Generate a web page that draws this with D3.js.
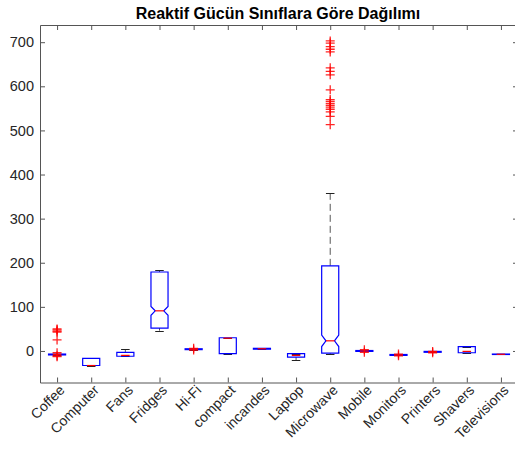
<!DOCTYPE html>
<html lang="tr">
<head>
<meta charset="UTF-8" />
<title>Reaktif Gücün Sınıflara Göre Dağılımı</title>
<script src="https://d3js.org/d3.v7.min.js"></script>
<style>
  body { margin: 0; background: #fff; font-family: "Liberation Sans", Arial, sans-serif; }
  svg { display: block; }
</style>
</head>
<body>
<svg width="515" height="450"></svg>
<script>
  // values
  const categories = ["Coffee", "Computer", "Fans", "Fridges", "Hi-Fi", "compact", "incandes",
    "Laptop", "Microwave", "Mobile", "Monitors", "Printers", "Shavers", "Televisions"];
  const q1 = [-9, -33, -12, 52, 3, -6, 4, -14, -5, -1, -10, -3, -4, -8];
  const medians = [-8, -33, -10, 91, 4, 29, 5, -10, 23, 0, -9, -2, -1, -7.5];
  const q3 = [-7, -17, -3, 179, 5, 30, 6, -6, 193, 1, -8, -1, 10, -7];
  const whiskerLow = [-10, -34, -12, 46, 3, -8, 4, -21, -8, -1, -10, -3, -4, -8];
  const whiskerHigh = [-6, -17, 4, 183, 5, 30, 6, -6, 358, 1, -8, -1, 10, -7];
  const notchHalf = [0, 0, 0, 10, 0, 0, 0, 0, 13, 0, 0, 0, 0, 0];
  const outliers = [
    [-4, -11, -13, 25, 43, 45, 48, 50],
    [], [], [],
    [2, 6],
    [], [], [],
    [703, 698, 690, 684, 678, 642, 634, 626, 592, 570, 566, 561, 557, 553, 548, 542, 532, 513],
    [-3, 3],
    [-7, -11],
    [-1, -4],
    [], []
  ];
  const yTicks = [0, 100, 200, 300, 400, 500, 600, 700];

  const svg = d3.select("svg");
  const margin = { top: 25, left: 40, right: 518, bottom: 382.5 };

  const x = d3.scaleLinear().domain([0.5, 14.5]).range([margin.left, margin.right]);
  const y = d3.scaleLinear().domain([-71.5, 739]).range([margin.bottom, margin.top]);

  const boxes = categories.map((c, i) => ({
    name: c, pos: i + 1, q1: q1[i], med: medians[i], q3: q3[i],
    lo: whiskerLow[i], hi: whiskerHigh[i], notch: notchHalf[i], out: outliers[i]
  }));

  const boxW = 0.25; // half width in category units
  const axisColor = "#262626";
  const frameColor = "#555";

  // title
  svg.append("text")
    .attr("x", (margin.left + margin.right) / 2 - 1)
    .attr("y", 19)
    .attr("text-anchor", "middle")
    .attr("font-size", 16)
    .attr("font-weight", "bold")
    .attr("fill", "#000")
    .text("Reaktif Gücün Sınıflara Göre Dağılımı");

  const plot = svg.append("g");

  // whiskers
  plot.selectAll(".wh").data(boxes.filter(d => d.hi > d.q3)).enter().append("line")
    .attr("x1", d => x(d.pos)).attr("x2", d => x(d.pos))
    .attr("y1", d => y(d.q3)).attr("y2", d => y(d.hi))
    .attr("stroke", "#555").attr("stroke-dasharray", "7,4");
  plot.selectAll(".wl").data(boxes.filter(d => d.lo < d.q1)).enter().append("line")
    .attr("x1", d => x(d.pos)).attr("x2", d => x(d.pos))
    .attr("y1", d => y(d.q1)).attr("y2", d => y(d.lo))
    .attr("stroke", "#555").attr("stroke-dasharray", "7,4");

  // caps
  ["lo", "hi"].forEach(k => {
    plot.selectAll(".cap-" + k).data(boxes).enter().append("line")
      .attr("x1", d => x(d.pos - boxW / 2)).attr("x2", d => x(d.pos + boxW / 2))
      .attr("y1", d => Math.round(y(d[k])) + 0.5).attr("y2", d => Math.round(y(d[k])) + 0.5)
      .attr("stroke", "#222");
  });

  // boxes (notched where the notch fits)
  function boxPath(d) {
    const l = x(d.pos - boxW), r = x(d.pos + boxW);
    const ind = (r - l) / 4;
    const t = y(d.q3), b = y(d.q1);
    if (!d.notch) return `M${l},${t}H${r}V${b}H${l}Z`;
    const nh = y(d.med + d.notch), nl = y(d.med - d.notch), m = y(d.med);
    return `M${l},${t}V${nh}L${l + ind},${m}L${l},${nl}V${b}H${r}V${nl}L${r - ind},${m}L${r},${nh}V${t}Z`;
  }
  plot.selectAll(".box").data(boxes).enter().append("path")
    .attr("d", boxPath)
    .attr("fill", "none")
    .attr("stroke", "#0000ff")
    .attr("stroke-width", 1.2);

  // medians
  plot.selectAll(".med").data(boxes).enter().append("line")
    .attr("x1", d => x(d.pos - boxW / 2)).attr("x2", d => x(d.pos + boxW / 2))
    .attr("y1", d => y(d.med)).attr("y2", d => y(d.med))
    .attr("stroke", "#ff0000")
    .attr("stroke-width", 1.2);

  // outliers
  const outPts = boxes.flatMap(d => d.out.map(v => ({ pos: d.pos, v })));
  const plus = plot.selectAll(".out").data(outPts).enter().append("g")
    .attr("transform", d => `translate(${x(d.pos)},${y(d.v)})`);
  plus.append("path")
    .attr("d", "M-4.5,0H4.5M0,-4.5V4.5")
    .attr("stroke", "#ff0000")
    .attr("stroke-width", 1.3)
    .attr("opacity", 0.85);

  // axes frame with inward ticks
  const tickLen = 5;
  svg.append("g")
    .attr("transform", `translate(0,${margin.bottom})`)
    .call(d3.axisBottom(x).tickValues(d3.range(1, 15)).tickSizeInner(-tickLen).tickSizeOuter(0).tickFormat(""))
    .call(g => g.selectAll("path,line").attr("stroke", frameColor));
  svg.append("g")
    .attr("transform", `translate(0,${margin.top})`)
    .call(d3.axisTop(x).tickValues(d3.range(1, 15)).tickSizeInner(-tickLen).tickSizeOuter(0).tickFormat(""))
    .call(g => g.selectAll("path,line").attr("stroke", frameColor));
  svg.append("g")
    .attr("transform", `translate(${margin.left},0)`)
    .call(d3.axisLeft(y).tickValues(yTicks).tickSizeInner(-tickLen).tickSizeOuter(0).tickPadding(6))
    .call(g => g.selectAll("path,line").attr("stroke", frameColor))
    .call(g => g.selectAll("text").attr("font-size", 14.5).attr("fill", axisColor)
      .attr("font-family", "'Liberation Sans', Arial, sans-serif"));
  svg.append("g")
    .attr("transform", `translate(${margin.right},0)`)
    .call(d3.axisRight(y).tickValues(yTicks).tickSizeInner(-tickLen).tickSizeOuter(0).tickFormat(""))
    .call(g => g.selectAll("path,line").attr("stroke", frameColor));

  // rotated category labels
  svg.append("g").selectAll("text").data(boxes).enter().append("text")
    .attr("transform", d => `translate(${x(d.pos) + 5},${margin.bottom + 5}) rotate(-45)`)
    .attr("text-anchor", "end")
    .attr("dy", "0.35em")
    .attr("font-size", 14)
    .attr("fill", axisColor)
    .text(d => d.name);
</script>
</body>
</html>
